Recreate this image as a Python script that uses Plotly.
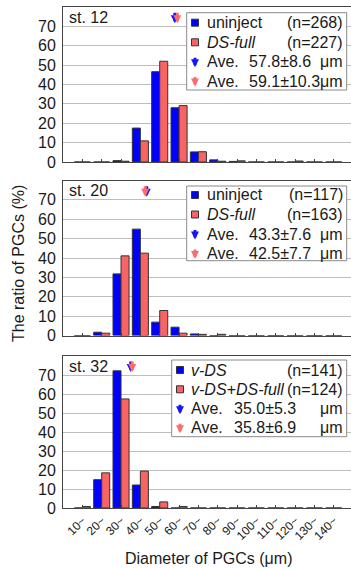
import plotly.graph_objects as go

# ---------------- data ----------------
bins = [10, 20, 30, 40, 50, 60, 70, 80, 90, 100, 110, 120, 130, 140]
tick_labels = ["10~", "20~", "30~", "40~", "50~", "60~", "70~", "80~", "90~",
               "100~", "110~", "120~", "130~", "140~"]

st12_uninject = [0, 0, 0.7, 17.5, 46.6, 28.0, 5.2, 1.1, 0.3, 0, 0, 0, 0, 0]
st12_dsfull = [0, 0, 0.4, 10.9, 52.0, 29.1, 5.3, 0.4, 0.6, 0, 0, 0.5, 0, 0]
st20_uninject = [0, 1.7, 31.8, 54.9, 6.9, 4.3, 0.8, 0, 0, 0, 0, 0, 0, 0]
st20_dsfull = [0, 1.2, 41.1, 42.5, 12.9, 1.2, 0.6, 0.6, 0, 0, 0, 0, 0, 0]
st32_vds = [0, 14.9, 72.2, 12.1, 0.8, 0, 0, 0, 0, 0, 0, 0, 0, 0]
st32_vds_dsfull = [0.8, 18.5, 57.4, 19.4, 3.2, 0.8, 0, 0, 0, 0, 0, 0, 0, 0]

stage_labels = ["st. 12", "st. 20", "st. 32"]
series_names = [["uninject", "<i>DS-full</i>"],
                ["uninject", "<i>DS-full</i>"],
                ["<i>v-DS</i>", "<i>v-DS+DS-full</i>"]]
n_counts = [[268, 227], [117, 163], [141, 124]]
ave_mean = [[57.8, 59.1], [43.3, 42.5], [35.0, 35.8]]
ave_sd = [[8.6, 10.3], [7.6, 7.7], [5.3, 6.9]]

# ---------------- styling ----------------
W, H = 351, 569
ML, MR, MT, MB = 63, 0, 7, 61
BLUE = "#0000ff"
RED = "#f86464"
ARROW_BLUE = "#1414ff"
ARROW_RED = "#ff6a6a"
FONT = "Liberation Sans, Arial, sans-serif"
TXT = "#1a1a1a"

# panel frames in pixels (top, bottom)
frames = [(7, 162), (180.5, 335.5), (356, 508)]


def px(x):
    return (x - ML) / (W - ML - MR)


def py(y):
    return 1 - (y - MT) / (H - MT - MB)


fig = go.Figure()
series = [(st12_uninject, st12_dsfull), (st20_uninject, st20_dsfull), (st32_vds, st32_vds_dsfull)]
for i, (b, r) in enumerate(series):
    ax = "x" if i == 0 else f"x{i+1}"
    ay = "y" if i == 0 else f"y{i+1}"
    for vals, col, nm in ((b, BLUE, series_names[i][0]), (r, RED, series_names[i][1])):
        fig.add_trace(go.Bar(x=bins, y=vals, name=nm, xaxis=ax, yaxis=ay,
                             marker=dict(color=col, line=dict(color="#333333", width=1)),
                             showlegend=False))

layout = dict(width=W, height=H, margin=dict(l=ML, r=MR, t=MT, b=MB),
              paper_bgcolor="white", plot_bgcolor="white",
              barmode="group", bargap=0.17, bargroupgap=0,
              font=dict(family=FONT, size=16, color=TXT), showlegend=False)

for i, (top, bot) in enumerate(frames):
    sfx = "" if i == 0 else str(i + 1)
    layout["xaxis" + sfx] = dict(
        domain=[0, 1], anchor="y" + sfx, range=[0, 148.9],
        tickvals=bins, ticktext=tick_labels, showticklabels=(i == 2),
        tickangle=-45, tickfont=dict(size=12, color=TXT),
        ticks="inside", ticklen=3, tickcolor="#444", showgrid=False,
        showline=True, linecolor="#444", linewidth=1, mirror=True, zeroline=False)
    layout["yaxis" + sfx] = dict(
        domain=[py(bot), py(top)], anchor="x" + sfx, range=[0, 80],
        tickvals=[0, 10, 20, 30, 40, 50, 60, 70], showgrid=True,
        gridcolor="#bdbdbd", gridwidth=1, ticks="", ticklabelstandoff=3,
        tickfont=dict(size=16, color=TXT),
        showline=True, linecolor="#444", linewidth=1, mirror=True, zeroline=False)

fig.update_layout(**layout)

annotations = []
shapes = []

# legend box geometry (pixels)
legend_boxes = [
    dict(l=186.7, t=12.7, r=346.7, b=90, key=195, txt=205, val=246.7,
         rows=[22.7, 42.3, 61.7, 81]),
    dict(l=186.7, t=186, r=346.7, b=260.7, key=195, txt=205, val=246.7,
         rows=[195, 214.5, 234, 253.5]),
    dict(l=171.7, t=360, r=346.7, b=436.7, key=180, txt=189.3, val=231.7,
         rows=[370, 389.3, 408.7, 427.7]),
]

ARROW = dict(arrowhead=2, arrowsize=0.55, arrowwidth=2.9, standoff=0, showarrow=True, text="")

for i, (top, bot) in enumerate(frames):
    sfx = "" if i == 0 else str(i + 1)
    # average arrows in plot
    for mval, col in ((ave_mean[i][0], ARROW_BLUE), (ave_mean[i][1], ARROW_RED)):
        annotations.append(dict(x=mval, y=71.6, xref="x" + sfx, yref="y" + sfx,
                                ax=0, ay=-12, arrowcolor=col, **ARROW))
    # stage label
    annotations.append(dict(x=px(67), y=py(top + 10.5), xref="paper", yref="paper",
                            text=stage_labels[i], showarrow=False,
                            xanchor="left", yanchor="middle",
                            font=dict(size=16, color=TXT)))
    lb = legend_boxes[i]
    shapes.append(dict(type="rect", xref="paper", yref="paper",
                       x0=px(lb["l"]), x1=px(lb["r"]), y0=py(lb["b"]), y1=py(lb["t"]),
                       fillcolor="white", line=dict(color="#8a8a8a", width=1)))
    rows = lb["rows"]
    for k, col in enumerate((BLUE, RED)):
        cy = rows[k]
        shapes.append(dict(type="rect", xref="paper", yref="paper",
                           x0=px(lb["key"] - 3.5), x1=px(lb["key"] + 3.5),
                           y0=py(cy + 3.5), y1=py(cy - 3.5),
                           fillcolor=col, line=dict(color="#333333", width=1)))
        annotations.append(dict(x=px(lb["txt"]), y=py(cy), xref="paper", yref="paper",
                                text=series_names[i][k], showarrow=False,
                                xanchor="left", yanchor="middle"))
        annotations.append(dict(x=px(345), y=py(cy), xref="paper", yref="paper",
                                text=f"(n={n_counts[i][k]})", showarrow=False,
                                xanchor="right", yanchor="middle"))
    for k, col in enumerate((ARROW_BLUE, ARROW_RED)):
        cy = rows[k + 2]
        annotations.append(dict(x=px(lb["key"]), y=py(cy + 5.5), xref="paper", yref="paper",
                                ax=0, ay=-11, arrowcolor=col, **ARROW))
        annotations.append(dict(x=px(lb["txt"]), y=py(cy), xref="paper", yref="paper",
                                text="Ave.", showarrow=False,
                                xanchor="left", yanchor="middle"))
        annotations.append(dict(x=px(lb["val"]), y=py(cy), xref="paper", yref="paper",
                                text=f"{ave_mean[i][k]:.1f}±{ave_sd[i][k]:.1f}",
                                showarrow=False, xanchor="left", yanchor="middle"))
        annotations.append(dict(x=px(345), y=py(cy), xref="paper", yref="paper",
                                text="μm", showarrow=False,
                                xanchor="right", yanchor="middle"))

# axis titles
annotations.append(dict(x=px(18), y=py(264), xref="paper", yref="paper",
                        text="The ratio of PGCs (%)", showarrow=False, textangle=-90,
                        xanchor="center", yanchor="middle", font=dict(size=16, color=TXT)))
annotations.append(dict(x=px(208), y=py(558), xref="paper", yref="paper",
                        text="Diameter of PGCs (μm)", showarrow=False,
                        xanchor="center", yanchor="middle", font=dict(size=16, color=TXT)))

fig.update_layout(annotations=annotations, shapes=shapes)
fig.write_html("out.html", config={"displayModeBar": False},
               post_script="document.body.style.margin='0';document.body.style.overflow='hidden';")
